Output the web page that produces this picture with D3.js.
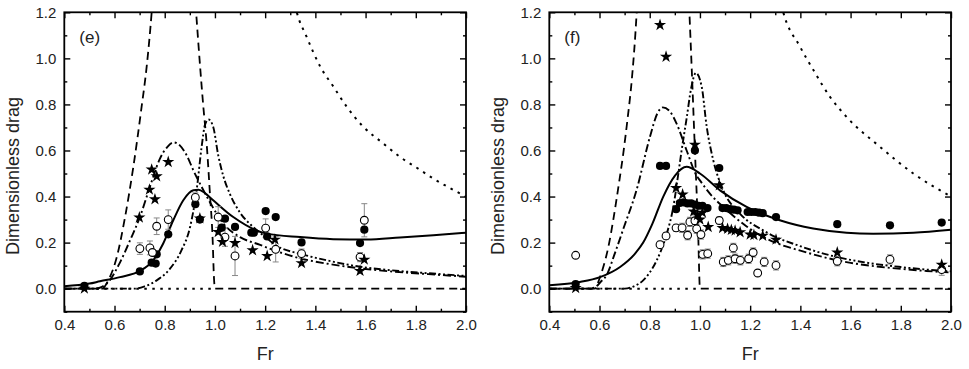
<!DOCTYPE html>
<html>
<head>
<meta charset="utf-8">
<script src="https://d3js.org/d3.v7.min.js"></script>
<style>
  body { margin: 0; background: #fff; }
  svg text { font-family: Arial, "Liberation Sans", sans-serif; fill: #222; }
</style>
</head>
<body>
<div id="chart"></div>
<script>
// tick values
const xTicks = [0.4, 0.6, 0.8, 1.0, 1.2, 1.4, 1.6, 1.8, 2.0];
const xMinor = [0.5, 0.7, 0.9, 1.1, 1.3, 1.5, 1.7, 1.9];
const yTicks = [0.0, 0.2, 0.4, 0.6, 0.8, 1.0, 1.2];
const yMinor = [-0.1, 0.1, 0.3, 0.5, 0.7, 0.9, 1.1];

// ---------- panel (e) : [Fr, drag] ----------
// null drag = the curve leaves the frame (gap)
const eSolid = [[0.4,0.011],[0.5,0.022],[0.542,0.032],[0.622,0.05],[0.701,0.077],[0.754,0.123],[0.794,0.196],[0.834,0.297],[0.874,0.384],[0.914,0.427],[0.935,0.43],[0.96,0.415],[0.993,0.384],[1.073,0.311],[1.206,0.239],[1.339,0.224],[1.471,0.215],[1.604,0.213],[1.737,0.222],[1.87,0.232],[2.0,0.243]];
const eDashed = [[0.4,0],[0.55,0],[0.575,0.036],[0.609,0.137],[0.642,0.311],[0.675,0.529],[0.708,0.79],[0.728,0.963],[0.748,1.2],[0.758,1.35],[0.84,null],[0.915,1.35],[0.925,1.2],[0.941,0.963],[0.953,0.8],[0.967,0.63],[0.98,0.413],[0.991,0.21],[0.996,0.05],[1.0,0],[2.0,0]];
const eDashDot = [[0.4,0],[0.52,0],[0.55,0.008],[0.58,0.035],[0.62,0.11],[0.662,0.21],[0.701,0.311],[0.741,0.442],[0.781,0.565],[0.81,0.615],[0.835,0.635],[0.86,0.622],[0.887,0.58],[0.914,0.514],[0.947,0.442],[0.987,0.362],[1.033,0.283],[1.1,0.224],[1.18,0.19],[1.24,0.165],[1.345,0.13],[1.45,0.108],[1.58,0.088],[1.7,0.075],[1.85,0.063],[2.0,0.052]];
const eDashDotDot = [[0.4,0],[0.68,0],[0.72,0.01],[0.768,0.036],[0.821,0.087],[0.867,0.167],[0.901,0.268],[0.927,0.427],[0.947,0.616],[0.96,0.71],[0.974,0.735],[0.993,0.703],[1.013,0.58],[1.033,0.49],[1.06,0.41],[1.1,0.33],[1.15,0.27],[1.2,0.225],[1.24,0.19],[1.345,0.15],[1.45,0.122],[1.58,0.095],[1.7,0.08],[1.85,0.067],[2.0,0.055]];
const eDotted = [[0.4,0],[1.0,0],[1.1,null],[1.305,1.3],[1.326,1.2],[1.365,1.094],[1.42,0.963],[1.472,0.877],[1.525,0.79],[1.591,0.703],[1.671,0.63],[1.737,0.572],[1.804,0.525],[1.87,0.478],[1.936,0.437],[2.0,0.40]];
const eFilled = [[0.48,0.012],[0.701,0.075],[0.748,0.113],[0.764,0.109],[0.768,0.149],[0.814,0.236],[0.922,0.367],[0.94,0.30],[1.027,0.265],[1.04,0.304],[1.08,0.268],[1.145,0.243],[1.155,0.243],[1.202,0.337],[1.208,0.227],[1.242,0.311],[1.345,0.201],[1.578,0.198],[1.595,0.256]];
const eOpen = [[0.701,0.174,0.025],[0.741,0.177,0.03],[0.751,0.157,0],[0.768,0.271,0.036],[0.814,0.30,0.042],[0.922,0.396,0.02],[1.013,0.311,0.045],[1.04,0.224,0.04],[1.08,0.142,0.085],[1.202,0.263,0.04],[1.242,0.171,0.055],[1.345,0.152,0.02],[1.578,0.137,0.02],[1.595,0.297,0.072]];
const eStars = [[0.48,0.0],[0.699,0.309],[0.739,0.43],[0.748,0.517],[0.761,0.388],[0.768,0.488],[0.814,0.55],[0.94,0.305],[1.013,0.246],[1.03,0.203],[1.08,0.198],[1.15,0.167],[1.208,0.142],[1.239,0.213],[1.345,0.111],[1.578,0.077],[1.595,0.126]];

// ---------- panel (f) ----------
const fSolid = [[0.4,0.015],[0.522,0.029],[0.602,0.05],[0.682,0.094],[0.74,0.15],[0.774,0.2],[0.81,0.28],[0.854,0.4],[0.9,0.49],[0.947,0.529],[1.0,0.50],[1.08,0.427],[1.186,0.355],[1.318,0.297],[1.451,0.261],[1.584,0.243],[1.69,0.239],[1.85,0.243],[2.0,0.256]];
const fDashed = [[0.4,0],[0.58,0],[0.602,0.05],[0.615,0.094],[0.635,0.18],[0.655,0.30],[0.675,0.44],[0.695,0.59],[0.712,0.74],[0.728,0.90],[0.748,1.2],[0.755,1.35],[0.85,null],[0.952,1.35],[0.958,1.2],[0.967,0.963],[0.98,0.60],[0.993,0.24],[1.0,0],[2.0,0]];
const fDashDot = [[0.4,0],[0.55,0],[0.58,0.005],[0.605,0.03],[0.629,0.06],[0.66,0.15],[0.695,0.26],[0.748,0.43],[0.801,0.66],[0.83,0.76],[0.852,0.787],[0.88,0.77],[0.907,0.717],[0.947,0.60],[0.987,0.49],[1.0,0.47],[1.05,0.40],[1.093,0.355],[1.186,0.27],[1.239,0.232],[1.3,0.2],[1.4,0.165],[1.5,0.135],[1.6,0.112],[1.7,0.097],[1.8,0.086],[1.9,0.077],[2.0,0.07]];
const fDashDotDot = [[0.4,0],[0.7,0],[0.74,0.012],[0.774,0.036],[0.8,0.07],[0.828,0.123],[0.868,0.239],[0.894,0.355],[0.914,0.5],[0.927,0.60],[0.947,0.74],[0.965,0.87],[0.984,0.937],[1.007,0.877],[1.027,0.703],[1.053,0.558],[1.093,0.427],[1.159,0.326],[1.252,0.253],[1.3,0.225],[1.385,0.19],[1.5,0.15],[1.6,0.125],[1.7,0.107],[1.8,0.094],[1.9,0.083],[2.0,0.075]];
const fDotted = [[0.4,0],[1.0,0],[1.1,null],[1.31,1.3],[1.332,1.2],[1.399,1.05],[1.452,0.949],[1.518,0.833],[1.584,0.746],[1.717,0.616],[1.85,0.50],[2.0,0.40]];
const fFilled = [[0.505,0.02],[0.841,0.533],[0.865,0.533],[0.905,0.345],[0.98,0.60],[0.92,0.372],[0.935,0.375],[0.95,0.37],[0.965,0.37],[0.98,0.365],[0.995,0.36],[1.01,0.36],[1.03,0.35],[1.077,0.524],[1.09,0.35],[1.105,0.35],[1.12,0.345],[1.135,0.343],[1.15,0.34],[1.19,0.333],[1.205,0.333],[1.22,0.333],[1.235,0.33],[1.25,0.328],[1.303,0.311],[1.547,0.28],[1.757,0.275],[1.963,0.287]];
const fOpen = [[0.505,0.145,0],[0.841,0.191,0.015],[0.865,0.229,0.015],[0.905,0.264,0.015],[0.929,0.264,0.02],[0.951,0.232,0.02],[0.96,0.29,0.02],[0.98,0.295,0.025],[0.987,0.26,0.02],[1.004,0.235,0.02],[1.011,0.149,0.02],[1.031,0.152,0.02],[1.077,0.296,0.015],[1.093,0.116,0.02],[1.113,0.123,0.02],[1.133,0.177,0.02],[1.14,0.13,0.02],[1.161,0.123,0.02],[1.194,0.13,0.02],[1.212,0.157,0.02],[1.23,0.068,0.01],[1.256,0.116,0.02],[1.303,0.101,0.02],[1.547,0.119,0.02],[1.757,0.127,0.02],[1.963,0.083,0.025]];
const fStars = [[0.505,0.003],[0.841,1.145],[0.865,1.007],[0.905,0.437],[0.931,0.409],[0.98,0.625],[0.975,0.335],[0.99,0.32],[1.0,0.30],[1.01,0.33],[1.033,0.268],[1.077,0.449],[1.09,0.263],[1.11,0.26],[1.125,0.255],[1.14,0.252],[1.16,0.245],[1.2,0.235],[1.215,0.233],[1.25,0.23],[1.303,0.213],[1.547,0.157],[1.963,0.104]];

const W = 969, H = 369;
const svg = d3.select("#chart").append("svg").attr("width", W).attr("height", H);

const panels = [
  {id: "e", label: "(e)", left: 64.3, solid: eSolid, dashed: eDashed, dashDot: eDashDot, dashDotDot: eDashDotDot, dotted: eDotted, filled: eFilled, open: eOpen, stars: eStars},
  {id: "f", label: "(f)", left: 549.3, solid: fSolid, dashed: fDashed, dashDot: fDashDot, dashDotDot: fDashDotDot, dotted: fDotted, filled: fFilled, open: fOpen, stars: fStars}
];

const plotTop = 12.3, plotBottom = 311.7, plotW = 401.7;

panels.forEach(p => {
  const x = d3.scaleLinear().domain([0.4, 2.0]).range([p.left, p.left + plotW]);
  const y = d3.scaleLinear().domain([-0.1, 1.2]).range([plotBottom, plotTop]);
  const g = svg.append("g");

  g.append("clipPath").attr("id", "clip-" + p.id)
    .append("rect").attr("x", x(0.4)).attr("y", plotTop).attr("width", plotW).attr("height", plotBottom - plotTop);

  // axes, all ticks pointing inward
  const fmt = d3.format(".1f");
  const mk = (axis, tr, vals, size, labels) => {
    const a = axis.tickValues(vals).tickSizeInner(-size).tickSizeOuter(0).tickPadding(8)
      .tickFormat(labels ? fmt : () => "");
    const ag = g.append("g").attr("transform", tr).call(a);
    ag.select(".domain").remove();
    ag.selectAll("line").attr("stroke", "#000").attr("stroke-width", 1.4);
    ag.selectAll("text").attr("font-size", 15).attr("fill", "#222")
      .style("font-family", "Arial, 'Liberation Sans', sans-serif");
    return ag;
  };
  mk(d3.axisBottom(x), `translate(0,${plotBottom})`, xTicks, 6, true);
  mk(d3.axisBottom(x), `translate(0,${plotBottom})`, xMinor, 3, false);
  mk(d3.axisTop(x), `translate(0,${plotTop})`, xTicks, 6, false);
  mk(d3.axisTop(x), `translate(0,${plotTop})`, xMinor, 3, false);
  mk(d3.axisLeft(y), `translate(${x(0.4)},0)`, yTicks, 6, true);
  mk(d3.axisLeft(y), `translate(${x(0.4)},0)`, yMinor, 3, false);
  mk(d3.axisRight(y), `translate(${x(2.0)},0)`, yTicks, 6, false);
  mk(d3.axisRight(y), `translate(${x(2.0)},0)`, yMinor, 3, false);

  g.append("rect").attr("x", x(0.4)).attr("y", plotTop).attr("width", plotW).attr("height", plotBottom - plotTop)
    .attr("fill", "none").attr("stroke", "#000").attr("stroke-width", 1.8);

  // axis titles
  g.append("text").attr("x", x(1.2)).attr("y", 360).attr("text-anchor", "middle")
    .attr("font-size", 18).text("Fr");
  g.append("text").attr("transform", `translate(${p.left - 45},176) rotate(-90)`)
    .attr("text-anchor", "middle").attr("font-size", 18).text("Dimensionless drag");
  g.append("text").attr("x", x(0.4) + 15).attr("y", 43).attr("font-size", 17).text(p.label);

  // curves
  const line = d3.line().defined(d => d[1] !== null)
    .x(d => x(d[0])).y(d => y(d[1])).curve(d3.curveMonotoneX);
  const cg = g.append("g").attr("clip-path", `url(#clip-${p.id})`);
  const styles = [
    [p.dotted, "2.5,5.5", 2],
    [p.dashed, "8,5", 1.8],
    [p.dashDotDot, "7,2.5,2,2.5,2,2.5", 1.9],
    [p.dashDot, "8,3,2,3", 1.9],
    [p.solid, null, 2]
  ];
  styles.forEach(([data, dash, w]) => {
    cg.append("path").datum(data).attr("d", line)
      .attr("fill", "none").attr("stroke", "#000").attr("stroke-width", w)
      .attr("stroke-dasharray", dash);
  });

  // error bars of open circles
  const eb = cg.append("g").attr("stroke", "#888").attr("stroke-width", 1);
  p.open.filter(d => d[2] > 0).forEach(d => {
    const cx = x(d[0]), y0 = y(d[1] - d[2]), y1 = y(d[1] + d[2]);
    eb.append("line").attr("x1", cx).attr("x2", cx).attr("y1", y0).attr("y2", y1);
    eb.append("line").attr("x1", cx - 3).attr("x2", cx + 3).attr("y1", y0).attr("y2", y0);
    eb.append("line").attr("x1", cx - 3).attr("x2", cx + 3).attr("y1", y1).attr("y2", y1);
  });

  cg.selectAll(".filled").data(p.filled).join("circle")
    .attr("cx", d => x(d[0])).attr("cy", d => y(d[1])).attr("r", 4.1).attr("fill", "#000");

  cg.selectAll(".open").data(p.open).join("circle")
    .attr("cx", d => x(d[0])).attr("cy", d => y(d[1])).attr("r", 3.9)
    .attr("fill", "#fff").attr("stroke", "#000").attr("stroke-width", 1.1);

  const star = d3.symbol(d3.symbolStar).size(46);
  cg.selectAll(".star").data(p.stars).join("path")
    .attr("transform", d => `translate(${x(d[0])},${y(d[1])})`)
    .attr("d", star).attr("fill", "#000");
});
</script>
</body>
</html>
